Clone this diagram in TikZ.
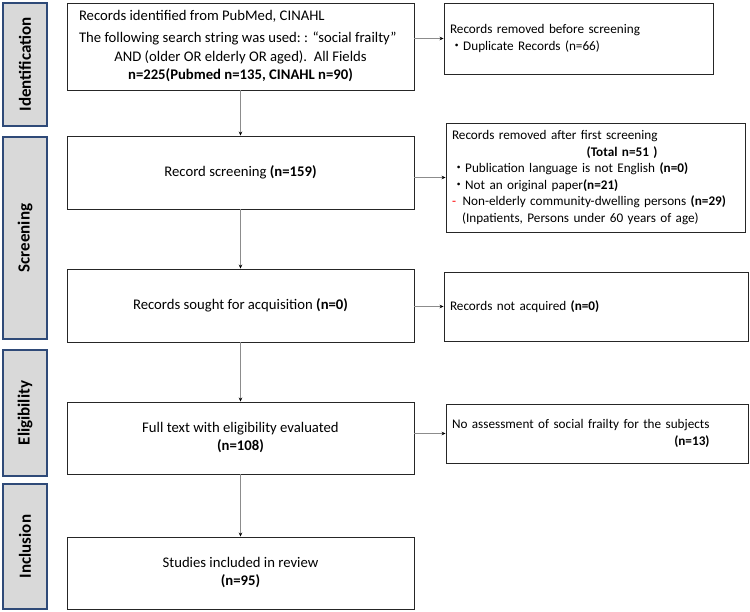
\documentclass[tikz,border=0pt]{standalone}
\usepackage{fontspec}
\setmainfont{Carlito}
\newfontfamily\cjk{Noto Sans CJK JP}
\usetikzlibrary{arrows.meta}
\definecolor{barblue}{HTML}{2F4A78}
\definecolor{bargray}{HTML}{D9D9D9}
\newcommand{\jdot}{{\cjk ・}}

\begin{document}
\begin{tikzpicture}[x=1pt,y=-1pt] %% prisma flow
	\tikzstyle{stage}=[draw=barblue,line width=1.2pt,fill=bargray,rotate=90,inner sep=0pt,minimum height=44pt,font=\fontsize{17}{20}\selectfont\bfseries]
	\tikzstyle{mainbox}=[draw=black!85,line width=0.9pt,minimum width=347pt,inner sep=0pt,align=center,font=\fontsize{14.7}{18}\selectfont]
	\tikzstyle{sidebox}=[draw=black!85,line width=0.9pt,inner xsep=6pt,inner ysep=0pt,align=left,font=\fontsize{13.2}{16.5}\selectfont]
	\tikzstyle{arr}=[draw=black!45,line width=0.8pt,-{Stealth[length=4pt,width=3.5pt,black]}]
	\useasboundingbox (0,0) rectangle (750,611);
	% phases
	\node[stage,minimum width=123pt] (ident) at (25,64.5) {Identification};
	\node[stage,minimum width=202pt] (screen) at (25,238) {Screening};
	\node[stage,minimum width=126pt] (elig) at (25,413) {Eligibility};
	\node[stage,minimum width=125pt] (incl) at (25,546.5) {Inclusion};
	% main column
	\node[mainbox,minimum height=87pt] (found) at (240.5,46.5) {\begin{minipage}{323pt}
		Records identified from PubMed, CINAHL\par\vspace{4pt}
		\mbox{The following search string was used:\ : “social frailty”}\par\vspace{1pt}
		\centering AND (older OR elderly OR aged).\ \ All Fields\par
		\textbf{n=225(Pubmed n=135, CINAHL n=90)}
		\end{minipage}};
	\node[mainbox,minimum height=73pt] (screened) at (240.5,172.5) {Record screening \textbf{(n=159)}};
	\node[mainbox,minimum height=73pt] (sought) at (240.5,305.5) {Records sought for acquisition \textbf{(n=0)}};
	\node[mainbox,minimum height=72pt] (assessed) at (240.5,438) {Full text with eligibility evaluated\\\textbf{(n=108)}};
	\node[mainbox,minimum height=72pt] (included) at (240.5,573) {Studies included in review\\\textbf{(n=95)}};
	% removed records
	\node[sidebox,text width=257pt,minimum height=71pt] (dup) at (578.5,38.5) {Records removed before screening\\
		\jdot Duplicate Records (n=66)};
	\node[sidebox,text width=287pt,minimum height=109pt] (excl) at (595.5,177.5) {Records removed after first screening\\
		\hphantom{Records removed after first screening}\llap{\textbf{(Total n=51 )}}\\
		\jdot Publication language is not English \textbf{(n=0)}\\
		\jdot Not an original paper\textbf{(n=21)}\\
		{\color{red}-}\, Non-elderly community-dwelling persons \textbf{(n=29)}\\
		\hspace*{10pt}(Inpatients, Persons under 60 years of age)};
	\node[sidebox,text width=292pt,minimum height=69pt] (notacq) at (596,306.5) {Records not acquired \textbf{(n=0)}};
	\node[sidebox,text width=290pt,minimum height=59pt] (noassess) at (597,433.5) {No assessment of social frailty for the subjects\\
		\hphantom{No assessment of social frailty for the subjects}\llap{\textbf{(n=13)}}};
	% arrows
	\draw[arr] (found) -- (screened);
	\draw[arr] (screened) -- (sought);
	\draw[arr] (sought) -- (assessed);
	\draw[arr] (assessed) -- (included);
	\draw[arr] (dup.west -| found.east) -- (dup.west);
	\draw[arr] (excl.west -| screened.east) -- (excl.west);
	\draw[arr] (notacq.west -| sought.east) -- (notacq.west);
	\draw[arr] (noassess.west -| assessed.east) -- (noassess.west);
\end{tikzpicture}
\end{document}
